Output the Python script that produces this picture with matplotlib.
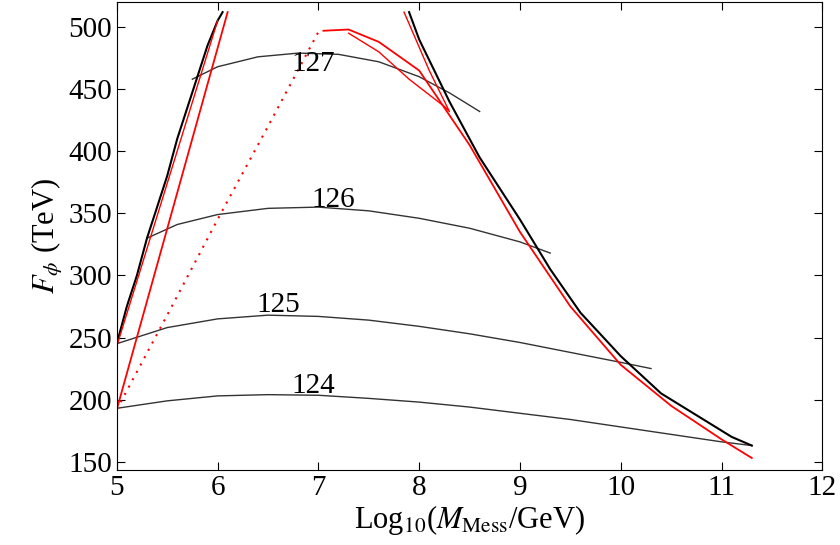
import matplotlib
matplotlib.use("Agg")
import matplotlib.pyplot as plt
import numpy as np

plt.rcParams['font.family'] = ['Liberation Serif']
plt.rcParams['mathtext.fontset'] = 'stix'

# contour curves (x = log10 M_mess, y = F_phi TeV)
c124_x = [5.0, 5.5, 6.0, 6.5, 7.0, 7.5, 8.0, 8.5, 9.0, 9.5, 10.0, 10.5, 11.0, 11.3]
c124_y = [193, 199, 203, 204, 203.5, 201, 198, 194, 189, 184, 178, 172, 166, 163]
c125_x = [5.0, 5.5, 6.0, 6.5, 7.0, 7.5, 8.0, 8.5, 9.0, 9.5, 10.0, 10.3]
c125_y = [245, 258, 265, 268, 267, 264, 259, 253, 246, 238, 230, 225]
c126_x = [5.3, 5.6, 6.0, 6.5, 7.0, 7.5, 8.0, 8.5, 9.0, 9.3]
c126_y = [330, 341, 349, 354, 355, 352, 346, 338, 327, 318]
c127_x = [5.75, 6.0, 6.4, 6.8, 7.2, 7.6, 8.0, 8.3, 8.6]
c127_y = [458, 468, 476, 479, 478, 472, 460, 447, 432]
labels = ["124", "125", "126", "127"]
label_pos = [(6.95, 211), (6.6, 276), (7.15, 361), (6.95, 470)]

# black boundary
bl_x = [5.0, 5.1, 5.2, 5.3, 5.4, 5.5, 5.6, 5.7, 5.8, 5.9, 6.0, 6.05]
bl_y = [245, 275, 300, 330, 355, 380, 410, 435, 460, 485, 505, 512]
br_x = [7.9, 8.0, 8.3, 8.6, 9.0, 9.3, 9.6, 10.0, 10.4, 10.8, 11.1, 11.3]
br_y = [512, 490, 440, 395, 345, 305, 270, 235, 205, 185, 170, 163]

# red curves
r1_x = [5.0, 6.1]
r1_y = [192, 512]
r2_x = [5.0, 6.0]
r2_y = [243, 505]
rd_x = [5.0, 5.5, 6.0, 6.5, 7.0]
rd_y = [192, 268, 345, 420, 496]
rr_x = [7.05, 7.3, 7.6, 8.0, 8.5, 9.0, 9.5, 10.0, 10.5, 11.0, 11.3]
rr_y = [497, 498, 488, 465, 405, 335, 275, 228, 195, 168, 153]
rl_x = [7.85, 8.1, 8.3, 8.25, 7.9, 7.6, 7.3]
rl_y = [512, 465, 432, 436, 458, 480, 495]

fig = plt.figure(figsize=(8.4, 5.45), dpi=100)
ax = fig.add_axes([0.139, 0.138, 0.84, 0.858])
for x, y in [(c124_x, c124_y), (c125_x, c125_y), (c126_x, c126_y), (c127_x, c127_y)]:
    ax.plot(x, y, color='#333333', lw=1.0)
for t, (x, y) in zip(labels, label_pos):
    ax.text(x, y, t, fontsize=21, ha='center', va='center')
ax.plot(bl_x, bl_y, color='black', lw=1.5)
ax.plot(br_x, br_y, color='black', lw=1.5)
ax.plot(r1_x, r1_y, color='red', lw=1.3)
ax.plot(r2_x, r2_y, color='red', lw=1.0)
ax.plot(rd_x, rd_y, color='red', lw=1.5, ls=(0, (1, 3)))
ax.plot(rr_x, rr_y, color='red', lw=1.3)
ax.plot(rl_x, rl_y, color='red', lw=1.0)

ax.set_xlim(5, 12)
ax.set_ylim(143.5, 520)
ax.set_xticks(range(5, 13))
ax.set_yticks(range(150, 501, 50))
ax.tick_params(direction='in', top=True, right=True, labelsize=21, length=6)
ax.set_xlabel(r'Log$_{10}$($M_{\rm Mess}$/GeV)', fontsize=22, labelpad=2)
ax.set_ylabel(r'$F_\phi$ (TeV)', fontsize=22, labelpad=2)
fig.savefig('out.png')
